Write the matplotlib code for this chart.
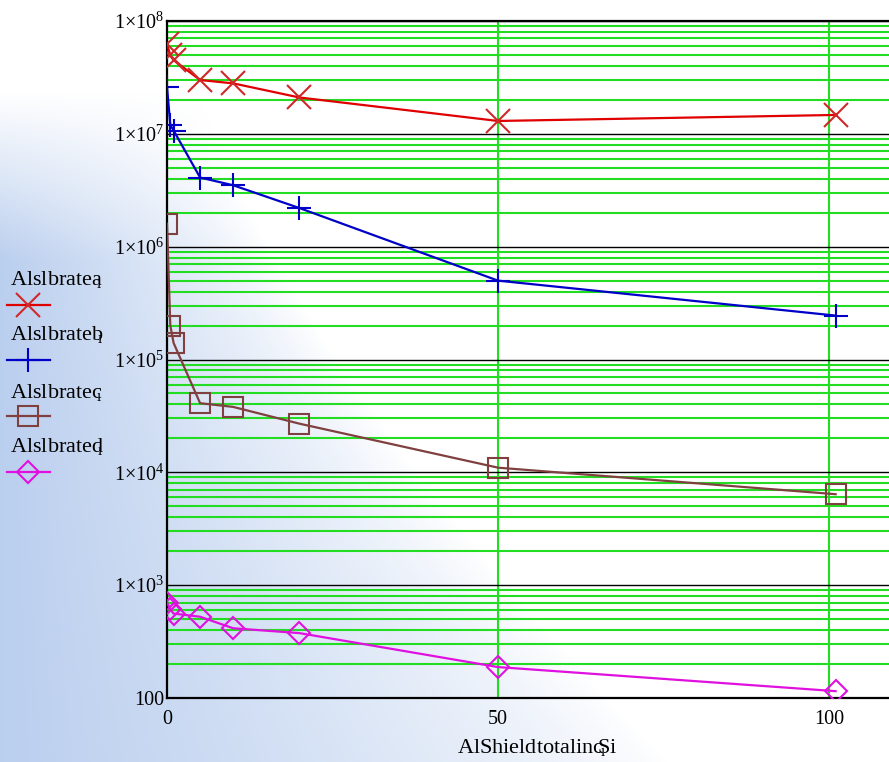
import numpy as np
import matplotlib
matplotlib.use("Agg")
import matplotlib.pyplot as plt
from matplotlib.lines import Line2D
from matplotlib.ticker import FixedLocator, NullFormatter

plt.rcParams['font.family'] = 'Liberation Serif'
plt.rcParams['mathtext.fontset'] = 'custom'
plt.rcParams['mathtext.rm'] = 'Liberation Serif'
plt.rcParams['mathtext.it'] = 'Liberation Serif:italic'
plt.rcParams['font.size'] = 14

# shield thickness and the four calibrated rates
thick = [0, 0.5, 1, 5, 10, 20, 50, 101]
rate_a = [6.2e7, 5.0e7, 4.5e7, 3.0e7, 2.8e7, 2.1e7, 1.3e7, 1.47e7]
rate_b = [2.6e7, 1.2e7, 1.07e7, 4.1e6, 3.5e6, 2.2e6, 5.0e5, 2.45e5]
rate_c = [1.6e6, 2.0e5, 1.4e5, 4.1e4, 3.8e4, 2.7e4, 1.1e4, 6.4e3]
rate_d = [700, 610, 560, 525, 415, 376, 188, 115]

# vector names with their index subscript tucked under the last letter
labels = [r'Alslbrate$\mathrm{a}\!\!_{\mathrm{ı}}$',
          r'Alslbrate$\mathrm{b}\!\!_{\mathrm{ı}}$',
          r'Alslbrate$\mathrm{c}\!\!_{\mathrm{ı}}$',
          r'Alslbrate$\mathrm{d}\!\!_{\mathrm{ı}}$']
x_label = r'AlShieldtotalinc$\!_{\mathrm{ı}}\!\!\!$Si'
y_ticks = [1e2, 1e3, 1e4, 1e5, 1e6, 1e7, 1e8]
y_ticklabels = ['100', r'$1{\times}10^{3}$', r'$1{\times}10^{4}$', r'$1{\times}10^{5}$',
                r'$1{\times}10^{6}$', r'$1{\times}10^{7}$', r'$1{\times}10^{8}$']
x_ticks = [0, 50, 100]

W, H = 889, 762
fig = plt.figure(figsize=(W / 100, H / 100), dpi=100)

# hazy blue sky behind the left/bottom part of the page
yy, xx = np.mgrid[0:H, 0:W]
u = xx / W
v = 1 - yy / H
reach = 0.20 + 0.55 * (1 - v) ** 1.5
a = np.clip(1 - u / reach, 0, 1) ** 0.8
b = np.clip((0.88 - v) / 0.22, 0, 1)
alpha = (0.72 * a * b)[..., None]
blue = np.array([160, 188, 232]) / 255
img = (1 - alpha) * 1.0 + alpha * blue
bg = fig.add_axes([0, 0, 1, 1], zorder=-1)
bg.imshow(img, aspect='auto', interpolation='bilinear')
bg.axis('off')

ax = fig.add_axes([167 / W, 1 - 698 / H, 722 / W, 677 / H])
ax.set_facecolor('none')
ax.set_yscale('log')
ax.set_xlim(0, 722 / 6.62)
ax.set_ylim(100, 1e8)

green = '#22dd22'
ax.yaxis.set_minor_locator(FixedLocator([m * 10 ** e for e in range(2, 8) for m in range(2, 10)]))
ax.yaxis.set_minor_formatter(NullFormatter())
ax.grid(True, which='minor', axis='y', color=green, lw=1.5)
ax.grid(True, which='major', axis='y', color='black', lw=1.0)
ax.grid(True, which='major', axis='x', color=green, lw=1.5)
ax.set_axisbelow(True)

ax.set_yticks(y_ticks)
ax.set_yticklabels(y_ticklabels)
ax.set_xticks(x_ticks)
ax.tick_params(which='both', length=0)
ax.tick_params(axis='y', pad=2, labelsize=14.5)
ax.tick_params(axis='x', pad=9, labelsize=14.5)

for side in ['left', 'bottom', 'top']:
    ax.spines[side].set_linewidth(1.6)
    ax.spines[side].set_color('black')
ax.spines['right'].set_visible(False)

series = [
    (rate_a, '#e00000', '#d02828', 'x', 17),
    (rate_b, '#0000c8', '#0000c8', '+', 17),
    (rate_c, '#804040', '#804040', 's', 15),
    (rate_d, '#e010e0', '#e010e0', 'D', 11),
]
for vals, lc, mc, mk, ms in series:
    ax.plot(thick, vals, color=lc, lw=1.6, marker=mk, ms=ms, mfc='none',
            mec=mc, mew=1.5, zorder=3)

# legend in the left margin
label_y = [280, 335, 392, 447]
sample_y = [305, 360, 416, 472]
for lab, ly, sy, (vals, lc, mc, mk, ms) in zip(labels, label_y, sample_y, series):
    fig.text(10 / W, 1 - ly / H, lab, ha='left', va='center', fontsize=16)
    fig.add_artist(Line2D([7 / W, 50 / W], [1 - sy / H] * 2, color=lc, lw=1.6,
                          transform=fig.transFigure))
    fig.add_artist(Line2D([28 / W], [1 - sy / H], marker=mk, ms=ms, mfc='none',
                          mec=mc, mew=1.5, transform=fig.transFigure))

fig.text(537 / W, 1 - 748 / H, x_label, ha='center', va='center', fontsize=16)

fig.savefig('out.png', dpi=100)
